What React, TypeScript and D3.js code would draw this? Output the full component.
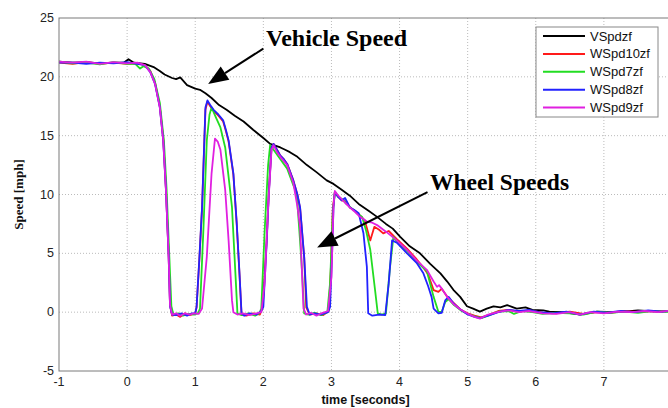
import React from 'react';
import * as d3 from 'd3';

// axis ticks
const xTicks = [-1, 0, 1, 2, 3, 4, 5, 6, 7, 8];
const yTicks = [-5, 0, 5, 10, 15, 20, 25];

// [time s, speed mph]
const vSpdzf: [number, number][] = [
  [-1, 21.3], [-0.8, 21.2], [-0.6, 21.25], [-0.4, 21.15], [-0.2, 21.2], [-0.05, 21.2], [0.02, 21.5], [0.1, 21.2],
  [0.26, 21.1], [0.4, 20.8], [0.48, 20.5], [0.55, 20.2], [0.66, 19.9], [0.72, 19.8], [0.78, 19.95], [0.88, 19.3],
  [1.0, 19.0], [1.07, 18.9], [1.15, 18.6], [1.24, 18.2], [1.35, 17.6], [1.46, 17.2], [1.58, 16.7], [1.71, 16.2],
  [1.85, 15.5], [2.0, 14.8], [2.1, 14.3], [2.25, 14.0], [2.32, 13.8], [2.39, 13.6], [2.5, 13.2], [2.64, 12.5],
  [2.78, 11.9], [2.93, 11.2], [3.03, 10.9], [3.15, 10.4], [3.27, 9.9], [3.4, 9.2], [3.55, 8.6], [3.67, 8.1],
  [3.8, 7.5], [3.9, 7.1], [4.01, 6.4], [4.15, 5.6], [4.3, 5.0], [4.45, 4.1], [4.6, 3.3], [4.7, 2.6],
  [4.79, 1.9], [4.89, 1.3], [4.99, 0.5], [5.08, 0.3], [5.18, 0.05], [5.28, 0.3], [5.38, 0.5], [5.48, 0.4],
  [5.58, 0.6], [5.65, 0.45], [5.72, 0.3], [5.85, 0.4], [5.95, 0.2], [6.11, 0.15], [6.2, 0.05], [6.4, 0.0],
  [6.65, -0.2], [6.9, 0.05], [7.2, 0.0], [7.5, 0.15], [7.8, 0.05], [8, 0.1],
];

const wSpd10zf: [number, number][] = [
  [-1, 21.2], [-0.8, 21.1], [-0.6, 21.25], [-0.4, 21.1], [-0.2, 21.2], [0, 21.1], [0.15, 21.15], [0.26, 21.0],
  [0.34, 20.5], [0.41, 19.5], [0.48, 17.5], [0.53, 14.8], [0.57, 10.5], [0.61, 4.8], [0.63, 0.6], [0.66, -0.3],
  [0.72, -0.2], [0.78, -0.4], [0.85, -0.1], [0.92, -0.25], [1.0, -0.1], [1.02, 0.4], [1.06, 4.4], [1.1, 8.8],
  [1.15, 17.2], [1.18, 17.9], [1.22, 17.5], [1.27, 17.1], [1.34, 16.7], [1.41, 16.2], [1.45, 15.4], [1.49, 14.5],
  [1.56, 11.7], [1.61, 7.4], [1.65, 3.2], [1.68, -0.2], [1.75, -0.3], [1.85, -0.1], [1.95, -0.2], [1.99, 0.4],
  [2.05, 6.2], [2.08, 10.2], [2.12, 14.0], [2.15, 14.3], [2.2, 13.8], [2.25, 13.3], [2.3, 13.0], [2.35, 12.6],
  [2.44, 11.2], [2.5, 10.0], [2.54, 8.8], [2.6, 4.6], [2.63, 0.4], [2.68, -0.2], [2.78, -0.1], [2.88, -0.25],
  [2.96, 0.1], [2.99, 3.5], [3.02, 8.8], [3.05, 10.2], [3.1, 9.8], [3.15, 9.5], [3.22, 9.4], [3.27, 8.9],
  [3.35, 8.6], [3.42, 8.2], [3.49, 7.8], [3.57, 6.1], [3.63, 7.25], [3.7, 7.0], [3.76, 6.7], [3.84, 6.9],
  [3.96, 6.2], [4.11, 5.4], [4.25, 4.5], [4.35, 3.8], [4.42, 3.2], [4.5, 1.87], [4.57, 1.72], [4.62, 2.0],
  [4.7, 1.3], [4.79, 0.8], [4.9, 0.2], [5.0, -0.1], [5.1, -0.3], [5.2, -0.45], [5.32, -0.2], [5.45, 0.1],
  [5.6, 0.2], [5.75, 0.05], [5.9, 0.15], [6.1, -0.05], [6.3, -0.1], [6.5, 0.05], [6.7, -0.15], [6.9, 0.0],
  [7.1, -0.05], [7.3, 0.1], [7.5, 0.0], [7.7, 0.1], [8, 0.05],
];

const wSpd7zf: [number, number][] = [
  [-1, 21.3], [-0.8, 21.15], [-0.6, 21.2], [-0.4, 21.05], [-0.2, 21.25], [0, 21.1], [0.12, 21.1], [0.19, 20.7],
  [0.24, 20.9], [0.32, 20.7], [0.4, 19.8], [0.48, 17.8], [0.54, 14.6], [0.58, 10.4], [0.62, 4.7], [0.65, 0.5],
  [0.68, -0.2], [0.75, -0.1], [0.82, -0.3], [0.9, -0.15], [0.98, -0.2], [1.04, -0.1], [1.07, 0.3], [1.12, 7.0],
  [1.17, 14.6], [1.21, 16.8], [1.24, 17.4], [1.3, 16.6], [1.37, 15.7], [1.44, 14.0], [1.49, 11.5], [1.54, 8.9],
  [1.59, 3.3], [1.62, -0.1], [1.68, -0.25], [1.78, -0.1], [1.88, -0.3], [1.94, -0.1], [1.97, 0.3], [2.02, 7.0],
  [2.07, 12.5], [2.1, 14.2], [2.15, 13.8], [2.25, 13.0], [2.35, 12.2], [2.44, 10.8], [2.49, 10.1], [2.54, 6.0],
  [2.57, 3.3], [2.6, -0.1], [2.66, -0.2], [2.75, -0.05], [2.85, -0.25], [2.94, 0.0], [2.98, 2.5], [3.02, 8.5],
  [3.05, 10.2], [3.1, 9.8], [3.16, 9.6], [3.22, 9.2], [3.3, 8.8], [3.38, 8.4], [3.45, 8.1], [3.51, 6.9],
  [3.57, 5.3], [3.64, 1.9], [3.68, -0.1], [3.74, -0.2], [3.8, -0.1], [3.86, 3.85], [3.91, 6.4], [3.96, 6.0],
  [4.11, 5.2], [4.25, 4.3], [4.4, 3.5], [4.5, 1.3], [4.57, 0.03], [4.62, 0.03], [4.67, 0.87], [4.72, 1.1],
  [4.8, 0.6], [4.9, 0.15], [5.0, -0.15], [5.1, -0.35], [5.2, -0.5], [5.32, -0.25], [5.45, 0.05], [5.6, 0.1],
  [5.68, -0.15], [5.8, 0.1], [5.95, 0.0], [6.1, -0.15], [6.3, -0.05], [6.5, -0.1], [6.7, -0.2], [6.9, 0.05],
  [7.1, -0.05], [7.3, 0.05], [7.5, -0.05], [7.7, 0.1], [8, 0.0],
];

const wSpd8zf: [number, number][] = [
  [-1, 21.2], [-0.8, 21.2], [-0.6, 21.1], [-0.4, 21.2], [-0.2, 21.15], [0, 21.25], [0.15, 21.1], [0.26, 21.0],
  [0.34, 20.4], [0.41, 19.4], [0.48, 17.4], [0.53, 14.6], [0.57, 10.4], [0.61, 4.7], [0.63, 0.5], [0.66, -0.2],
  [0.72, -0.25], [0.8, -0.1], [0.88, -0.3], [0.95, -0.1], [1.0, -0.1], [1.02, 0.45], [1.06, 4.5], [1.1, 8.9],
  [1.15, 17.4], [1.18, 18.0], [1.22, 17.6], [1.27, 17.2], [1.34, 16.8], [1.41, 16.3], [1.45, 15.5], [1.49, 14.6],
  [1.56, 11.8], [1.61, 7.5], [1.65, 3.3], [1.68, -0.1], [1.72, -0.3], [1.8, -0.1], [1.9, -0.2], [1.97, 0.1],
  [2.0, 0.45], [2.05, 6.0], [2.08, 10.0], [2.12, 14.0], [2.15, 14.3], [2.2, 13.8], [2.25, 13.3], [2.3, 13.0],
  [2.35, 12.6], [2.44, 11.2], [2.5, 10.0], [2.54, 8.9], [2.6, 4.7], [2.64, 0.45], [2.68, -0.2], [2.75, -0.1],
  [2.85, -0.2], [2.95, 0.0], [2.98, 0.45], [3.01, 5.0], [3.03, 8.9], [3.05, 10.2], [3.1, 9.8], [3.15, 9.5],
  [3.2, 9.7], [3.27, 8.9], [3.33, 8.7], [3.4, 8.4], [3.47, 6.7], [3.52, 3.85], [3.54, -0.1], [3.6, -0.3],
  [3.7, -0.2], [3.79, -0.25], [3.84, 2.4], [3.89, 6.1], [3.96, 5.9], [4.11, 5.0], [4.25, 4.2], [4.35, 3.3],
  [4.42, 2.2], [4.47, 1.3], [4.5, 0.3], [4.57, -0.1], [4.62, -0.05], [4.67, 1.0], [4.72, 1.3], [4.8, 0.7],
  [4.9, 0.2], [5.0, -0.2], [5.1, -0.4], [5.18, -0.5], [5.3, -0.3], [5.45, 0.0], [5.6, 0.2], [5.75, 0.1],
  [5.9, 0.2], [6.05, 0.0], [6.25, -0.1], [6.45, 0.05], [6.65, -0.2], [6.85, 0.05], [7.05, -0.05], [7.25, 0.1],
  [7.45, 0.0], [7.65, 0.15], [7.85, 0.05], [8, 0.1],
];

const wSpd9zf: [number, number][] = [
  [-1, 21.3], [-0.8, 21.2], [-0.6, 21.3], [-0.4, 21.1], [-0.2, 21.25], [0, 21.15], [0.15, 21.2], [0.26, 21.0],
  [0.34, 20.4], [0.41, 19.4], [0.48, 17.4], [0.53, 14.6], [0.57, 10.4], [0.61, 4.7], [0.63, 0.6], [0.66, -0.2],
  [0.72, -0.1], [0.78, -0.3], [0.85, -0.1], [0.92, -0.2], [0.98, -0.1], [1.05, -0.15], [1.1, 0.3], [1.17, 4.7],
  [1.24, 11.8], [1.29, 14.75], [1.33, 14.5], [1.37, 13.8], [1.44, 10.4], [1.49, 6.1], [1.54, 1.0], [1.56, 0.0],
  [1.62, -0.2], [1.7, -0.1], [1.8, -0.25], [1.9, -0.1], [1.97, 0.0], [2.02, 2.5], [2.07, 8.9], [2.12, 13.8],
  [2.15, 14.2], [2.2, 13.6], [2.25, 13.2], [2.35, 12.5], [2.44, 11.0], [2.5, 9.0], [2.54, 7.2], [2.57, 3.0],
  [2.59, 0.3], [2.63, -0.2], [2.7, -0.05], [2.78, -0.3], [2.85, -0.1], [2.95, 0.1], [3.0, 3.0], [3.03, 9.0],
  [3.05, 10.3], [3.1, 9.9], [3.15, 9.6], [3.2, 9.3], [3.27, 8.9], [3.33, 8.6], [3.4, 8.2], [3.52, 7.7],
  [3.6, 7.6], [3.67, 7.4], [3.81, 6.8], [3.96, 6.1], [4.11, 5.3], [4.25, 4.4], [4.4, 3.6], [4.5, 2.6],
  [4.55, 2.15], [4.58, 2.3], [4.62, 2.0], [4.7, 1.3], [4.79, 0.7], [4.9, 0.2], [4.99, -0.1], [5.1, -0.4],
  [5.18, -0.55], [5.3, -0.2], [5.47, 0.05], [5.6, 0.15], [5.75, 0.0], [5.9, 0.1], [6.1, -0.1], [6.3, -0.15],
  [6.5, 0.0], [6.65, -0.2], [6.8, 0.0], [7.0, -0.1], [7.2, 0.05], [7.4, 0.0], [7.6, 0.1], [7.8, 0.0], [8, 0.15],
];

const seriesNames = ['VSpdzf', 'WSpd10zf', 'WSpd7zf', 'WSpd8zf', 'WSpd9zf'];
const seriesColors = ['#000000', '#ff1a1a', '#22dd22', '#2222ff', '#e020e0'];
const seriesData = [vSpdzf, wSpd10zf, wSpd7zf, wSpd8zf, wSpd9zf];

const W = 668;
const H = 408;
const left = 59, right = 672, top = 18, bottom = 371;

const Arrow = ({ x1, y1, x2, y2 }: { x1: number; y1: number; x2: number; y2: number }) => {
  const a = Math.atan2(y2 - y1, x2 - x1);
  const len = 20, half = 8;
  const bx = x2 - len * Math.cos(a), by = y2 - len * Math.sin(a);
  const p1 = [bx + half * Math.sin(a), by - half * Math.cos(a)];
  const p2 = [bx - half * Math.sin(a), by + half * Math.cos(a)];
  return (
    <g>
      <line x1={x1} y1={y1} x2={bx} y2={by} stroke="#000" strokeWidth={2} />
      <polygon points={`${x2},${y2} ${p1[0]},${p1[1]} ${p2[0]},${p2[1]}`} fill="#000" />
    </g>
  );
};

const App = () => {
  const x = d3.scaleLinear().domain([-1, 8]).range([left, right]);
  const y = d3.scaleLinear().domain([-5, 25]).range([bottom, top]);
  const line = d3.line<[number, number]>().x(d => x(d[0])).y(d => y(d[1]));

  return (
    <svg width={W} height={H} style={{ position: 'absolute', left: 0, top: 0, background: '#fff' }}>
      <rect x={0} y={0} width={W} height={H} fill="#fff" />
      {/* grid */}
      {xTicks.slice(1).map(t => (
        <line key={'gx' + t} x1={x(t)} x2={x(t)} y1={top} y2={bottom} stroke="#bbb" strokeDasharray="1,2" />
      ))}
      {yTicks.slice(1, -1).map(t => (
        <line key={'gy' + t} x1={left} x2={right} y1={y(t)} y2={y(t)} stroke="#bbb" strokeDasharray="1,2" />
      ))}
      {/* series */}
      <g>
        {seriesData.map((d, i) => (
          <path key={seriesNames[i]} d={line(d) || ''} fill="none" stroke={seriesColors[i]} strokeWidth={1.8} strokeLinejoin="round" />
        ))}
      </g>
      {/* frame */}
      <rect x={left} y={top} width={right - left} height={bottom - top} fill="none" stroke="#7a7a7a" strokeWidth={1} />
      {/* tick labels */}
      {xTicks.map(t => (
        <text key={'tx' + t} x={x(t)} y={bottom + 15} textAnchor="middle" fontFamily="Liberation Sans, Arial" fontSize={12.5} fill="#222">{t}</text>
      ))}
      {yTicks.map(t => (
        <text key={'ty' + t} x={left - 5} y={y(t) + 4} textAnchor="end" fontFamily="Liberation Sans, Arial" fontSize={12.5} fill="#222">{t}</text>
      ))}
      <text x={(left + right) / 2} y={404} textAnchor="middle" fontFamily="Liberation Sans, Arial" fontWeight="bold" fontSize={12.5} fill="#111">time [seconds]</text>
      <text transform={`translate(23,${(top + bottom) / 2}) rotate(-90)`} textAnchor="middle" fontFamily="Liberation Serif, Times New Roman" fontWeight="bold" fontSize={13} fill="#111">Speed [mph]</text>
      {/* annotations */}
      <Arrow x1={x(2.0)} y1={y(22.4)} x2={x(1.19)} y2={y(19.4)} />
      <text x={266} y={46} fontFamily="Liberation Serif, Times New Roman" fontWeight="bold" fontSize={24} fill="#000">Vehicle Speed</text>
      <Arrow x1={x(4.41)} y1={y(10.2)} x2={x(2.79)} y2={y(5.5)} />
      <text x={430} y={190} fontFamily="Liberation Serif, Times New Roman" fontWeight="bold" fontSize={23.5} fill="#000">Wheel Speeds</text>
      {/* legend */}
      <g transform="translate(536,27)">
        <rect x={0} y={0} width={122} height={90} fill="#fff" stroke="#888" />
        {seriesNames.map((n, i) => (
          <g key={n} transform={`translate(0,${9 + i * 17.9})`}>
            <line x1={7} x2={49} y1={0} y2={0} stroke={seriesColors[i]} strokeWidth={2} />
            <text x={54} y={4.5} fontFamily="Liberation Sans, Arial" fontSize={13} fill="#111">{n}</text>
          </g>
        ))}
      </g>
    </svg>
  );
};

export default App;
